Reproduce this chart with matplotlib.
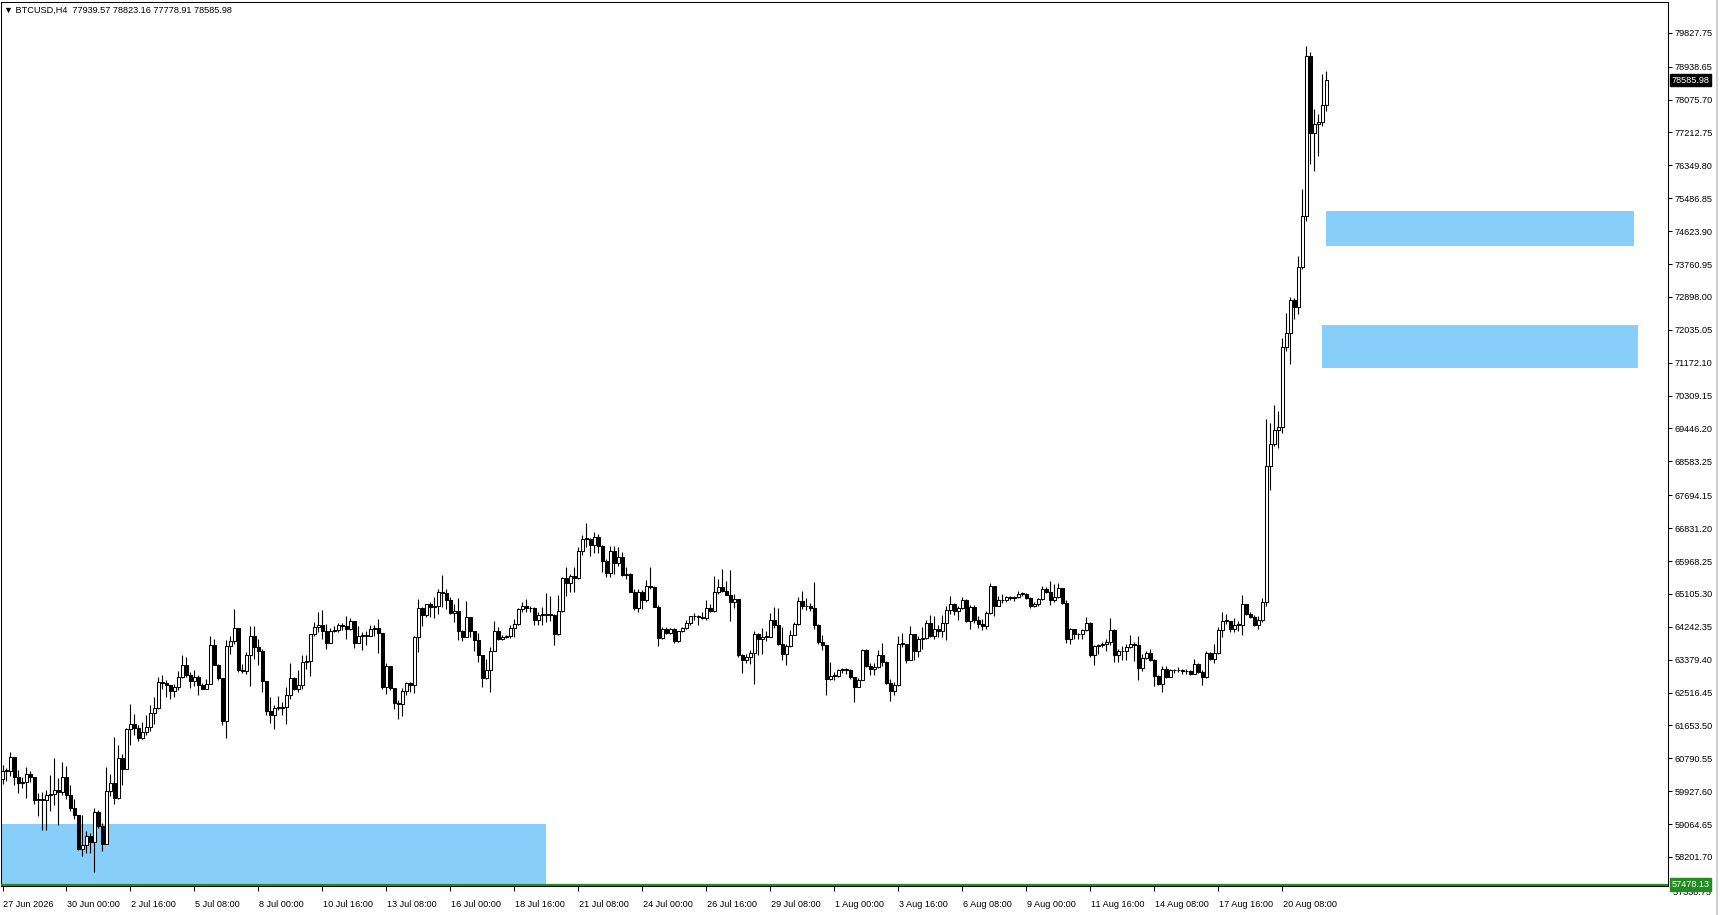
import matplotlib
matplotlib.use("Agg")
import matplotlib.pyplot as plt
from matplotlib.patches import Rectangle
from matplotlib.lines import Line2D
from matplotlib.transforms import ScaledTranslation, blended_transform_factory

# BTCUSD H4 candles (open of each bar = previous close)
first_open = 60249
close = [
    60458, 60458, 60833, 60310, 60153, 60162, 60389, 60310, 59700, 59700,
    59692, 59831, 59857, 59970, 59918, 60310, 59831, 59482, 59308, 58419,
    58507, 58742, 58585, 59378, 59003, 58550, 59944, 60153, 59761, 60807,
    60511, 61547, 61704, 61591, 61312, 61469, 61600, 61983, 62122, 62793,
    62767, 62706, 62549, 62663, 62924, 63246, 62985, 62811, 62924, 62724,
    62619, 62732, 63769, 63246, 62898, 61765, 63734, 63856, 64214, 63098,
    63081, 63508, 63996, 63708, 63595, 62811, 62027, 61940, 62114, 62122,
    62140, 62462, 62898, 62602, 62706, 63316, 63334, 64057, 64231, 64292,
    64144, 63822, 64135, 64153, 64292, 64275, 64188, 64397, 63822, 63996,
    64013, 64013, 64188, 64205, 64074, 62663, 63212, 62636, 62253, 62218,
    62558, 62767, 62724, 63970, 64728, 64562, 64841, 64754, 64780, 65163,
    65129, 64955, 64598, 64659, 64127, 63970, 64493, 64127, 63901, 63509,
    62899, 63117, 63605, 64127, 63910, 63970, 63997, 64214, 64310, 64711,
    64781, 64729, 64729, 64432, 64554, 64554, 64572, 64554, 64040, 64650,
    65521, 65382, 65582, 65513, 66218, 66558, 66541, 66393, 66611, 66367,
    65975, 65643, 66218, 65905, 66062, 65608, 65626, 65164, 64729, 65147,
    64955, 65304, 65295, 64772, 63953, 64188, 64075, 64188, 63857, 64127,
    64206, 64336, 64520, 64520, 64511, 64467, 64729, 64650, 65147, 65278,
    65173, 65086, 64903, 64973, 63491, 63361, 63448, 63561, 64058, 63910,
    63970, 63970, 64424, 64276, 63796, 63517, 63726, 64032, 64319, 64911,
    64798, 64781, 64729, 64302, 63840, 63770, 62864, 62951, 62951, 63099,
    63125, 63117, 62925, 62664, 62838, 63622, 63204, 63125, 63186, 63491,
    63317, 62777, 62550, 62725, 63788, 63788, 63361, 64058, 63596, 63927,
    63944, 64345, 63997, 64188, 64127, 64345, 64694, 64842, 64650, 64729,
    64955, 64406, 64755, 64432, 64319, 64258, 64607, 65304, 64798, 64955,
    64938, 65016, 65007, 65016, 65103, 65103, 64990, 64781, 64842, 64972,
    65234, 65147, 64955, 65016, 65251, 64868, 63909, 64171, 64058, 64040,
    64145, 64336, 63509, 63735, 63753, 63788, 63840, 64145, 63491, 63596,
    63604, 63709, 63796, 63753, 63160, 63430, 63552, 63361, 62951, 62733,
    63143, 62925, 63099, 63099, 63099, 63073, 63073, 63012, 63273, 63056,
    62925, 63552, 63387, 63552, 64145, 64389, 64389, 64188, 64293, 64293,
    64842, 64580, 64493, 64293, 64424, 64903, 68457, 69046, 69418, 69490,
    71587, 71949, 72817, 72641, 73695, 75017, 79232, 77207, 77444, 77496,
    77939.57, 78585.98,
]
high = [
    60615, 60528, 60964, 60833, 60484, 60310, 60571, 60458, 60310, 59875,
    59918, 59962, 60354, 60807, 60267, 60702, 60589, 60092, 59726, 59308,
    59291, 58890, 58829, 59482, 59439, 59090, 60554, 60371, 61356, 61138,
    60894, 61573, 62227, 61966, 61661, 61748, 61922, 62183, 62401, 62924,
    62985, 62837, 62706, 62750, 63072, 63490, 63447, 63055, 63098, 62968,
    62767, 62880, 64013, 63926, 63272, 62898, 63883, 63996, 64710, 64214,
    63272, 63578, 64275, 64257, 63909, 63665, 62811, 62401, 62201, 62427,
    62271, 62663, 63299, 62924, 63098, 63508, 63490, 64057, 64379, 64623,
    64693, 64318, 64205, 64257, 64344, 64344, 64519, 64484, 64397, 64257,
    64100, 64144, 64292, 64292, 64449, 64074, 63299, 63212, 62636, 62314,
    62636, 62793, 62793, 63996, 64972, 64754, 64841, 64884, 65015, 65233,
    65600, 65234, 65016, 64842, 64990, 64145, 64929, 64493, 64127, 64084,
    63509, 63387, 63709, 64389, 64249, 64032, 64032, 64276, 64450, 64729,
    64903, 64973, 64798, 64755, 64624, 64755, 65129, 65042, 64580, 65077,
    65539, 65800, 65626, 65800, 66340, 66645, 66959, 66584, 66733, 66672,
    66384, 66018, 66367, 66349, 66323, 66210, 65800, 65643, 65234, 65234,
    65216, 65469, 65800, 65321, 64816, 64232, 64249, 64214, 64214, 64127,
    64232, 64432, 64537, 64607, 64554, 64624, 64955, 64842, 65565, 65495,
    65757, 65452, 65731, 65103, 64973, 63517, 63517, 63622, 64119, 64084,
    64214, 64119, 64607, 64755, 64729, 64232, 63796, 64145, 64380, 65016,
    65190, 64990, 64859, 65426, 64319, 64032, 63770, 63317, 63056, 63125,
    63160, 63160, 63143, 62925, 62899, 63648, 63665, 63300, 63300, 63622,
    63822, 63334, 62881, 62794, 63997, 64084, 63796, 64275, 64058, 63997,
    64232, 64424, 64554, 64537, 64293, 64554, 64798, 65042, 64868, 64798,
    65016, 64972, 64816, 64816, 64519, 64450, 64668, 65391, 65321, 65060,
    65103, 65060, 65060, 65042, 65190, 65164, 65129, 65016, 64903, 64990,
    65321, 65277, 65452, 65365, 65391, 65251, 64955, 64206, 64171, 64084,
    64188, 64493, 64363, 63770, 63796, 63840, 63909, 64467, 64171, 63665,
    63735, 63796, 64032, 63840, 63997, 63535, 63596, 63648, 63387, 62968,
    63212, 63212, 63143, 63143, 63186, 63143, 63143, 63099, 63404, 63300,
    63099, 63596, 63578, 63796, 64232, 64641, 64580, 64406, 64467, 64406,
    65077, 64842, 64624, 64554, 64519, 64990, 69697, 69594, 70059, 69903,
    71815, 72486, 72899, 72868, 73963, 75740, 79479, 79335, 77827, 77703,
    78736, 78823.16,
]
low = [
    60118, 60197, 60336, 60092, 59875, 60005, 59761, 60179, 59587, 59265,
    58916, 58916, 59395, 59570, 59029, 59831, 59726, 59413, 59204, 58393,
    58219, 58306, 58306, 57810, 58960, 58350, 58550, 59814, 59587, 59726,
    60092, 60511, 61138, 61399, 61243, 61295, 61399, 61504, 61704, 62079,
    62619, 62401, 62340, 62401, 62576, 62898, 62924, 62636, 62689, 62445,
    62602, 62602, 62732, 63246, 62837, 61661, 61312, 63534, 63795, 63055,
    63037, 63011, 62689, 63386, 63246, 62532, 61922, 61730, 61556, 62053,
    61940, 61678, 62358, 62593, 62532, 62619, 63142, 62950, 64013, 64100,
    63909, 63647, 63822, 64100, 64118, 64170, 63909, 64170, 63682, 63822,
    63621, 63752, 63996, 64013, 63560, 62619, 62488, 62576, 62079, 61818,
    61905, 62445, 62532, 62515, 63578, 64275, 64492, 64492, 64466, 64580,
    64755, 64711, 64580, 64380, 63883, 63857, 63970, 63970, 63596, 63317,
    62664, 62864, 62533, 63605, 63883, 63901, 63944, 63944, 63970, 64293,
    64624, 64624, 64624, 64276, 64293, 64276, 64363, 64406, 63753, 64014,
    64641, 65042, 65147, 65164, 65495, 66131, 66323, 66088, 66175, 66166,
    65687, 65539, 65556, 65626, 65844, 65582, 65495, 65147, 64694, 64641,
    64711, 64885, 65234, 64755, 63727, 63927, 64040, 64040, 63814, 63840,
    64101, 64188, 64293, 64432, 64276, 64450, 64432, 64641, 64641, 65103,
    65147, 65077, 64406, 64729, 63448, 63038, 63300, 63273, 62733, 63509,
    63535, 63857, 63970, 64214, 63770, 63361, 63247, 63709, 64014, 64293,
    64711, 64694, 64668, 64188, 63796, 63622, 62446, 62838, 62838, 62925,
    63038, 63012, 62881, 62272, 62664, 62838, 63187, 62986, 62986, 63160,
    63212, 62751, 62289, 62446, 62690, 63709, 63300, 63361, 63361, 63448,
    63665, 63927, 63970, 63927, 63970, 63970, 63883, 64580, 64554, 64432,
    64711, 64380, 64171, 64345, 64206, 64145, 64171, 64580, 64519, 64798,
    64868, 64903, 64955, 64929, 64990, 65042, 64972, 64729, 64755, 64798,
    64955, 65121, 64816, 64903, 64990, 64842, 63822, 63796, 63927, 63927,
    63927, 64127, 63448, 63230, 63535, 63709, 63596, 63770, 63317, 63317,
    63361, 63361, 63683, 63334, 62838, 63073, 63387, 63334, 62690, 62707,
    62533, 62899, 63012, 63038, 63056, 63012, 63012, 62986, 63012, 63038,
    62707, 62899, 63361, 63300, 63535, 63970, 64319, 64101, 64101, 64119,
    64032, 64554, 64467, 64275, 64171, 64362, 64790, 67838, 68974, 68922,
    69335, 71484, 71143, 72311, 72455, 73622, 74893, 76380, 76205, 76587,
    77372, 77778.91,
]

# zones drawn on the chart: (bar from, bar to, price low, price high)
zones = [
    (330.95, 408.0, 74242, 75141),
    (329.85, 408.8, 71040, 72166),
    (-1.0, 135.9, 57478.13, 59064),
]
green_level = 57478.13
last_price = 78585.98

price_ticks = [79827.75, 78938.65, 78075.70, 77212.75, 76349.80, 75486.85,
               74623.90, 73760.95, 72898.00, 72035.05, 71172.10, 70309.15,
               69446.20, 68583.25, 67694.15, 66831.20, 65968.25, 65105.30,
               64242.35, 63379.40, 62516.45, 61653.50, 60790.55, 59927.60,
               59064.65, 58201.70]
bottom_tick = 57338.75

date_labels = ["27 Jun 2026", "30 Jun 00:00", "2 Jul 16:00", "5 Jul 08:00",
               "8 Jul 00:00", "10 Jul 16:00", "13 Jul 08:00", "16 Jul 00:00",
               "18 Jul 16:00", "21 Jul 08:00", "24 Jul 00:00", "26 Jul 16:00",
               "29 Jul 08:00", "1 Aug 00:00", "3 Aug 16:00", "6 Aug 08:00",
               "9 Aug 00:00", "11 Aug 16:00", "14 Aug 08:00", "17 Aug 16:00",
               "20 Aug 08:00"]

FONT = ["Liberation Sans", "DejaVu Sans"]
FS = 6.6
plt.rcParams["font.family"] = FONT

W, H = 1720, 915
fig = plt.figure(figsize=(W / 100, H / 100), dpi=100)
ax = fig.add_axes([1 / W, 29 / H, 1667 / W, 884 / H])
ax.set_xlim(-0.375, 416.375)
ax.set_ylim(57440, 80637)

n = len(close)
opens = [first_open] + close[:-1]
xs = list(range(n))

# wicks
hi = [max(high[i], opens[i], close[i]) for i in range(n)]
lo = [min(low[i], opens[i], close[i]) for i in range(n)]
ax.vlines(xs, lo, hi, color="black", linewidth=0.8, zorder=2)

# bodies
bottoms = [min(opens[i], close[i]) for i in range(n)]
heights = [max(abs(close[i] - opens[i]), 18) for i in range(n)]
faces = ["white" if close[i] >= opens[i] else "black" for i in range(n)]
ax.bar(xs, heights, bottom=bottoms, width=0.55, color=faces,
       edgecolor="black", linewidth=0.75, zorder=3)

for x0, x1, y0, y1 in zones:
    ax.add_patch(Rectangle((x0, y0), x1 - x0, y1 - y0, facecolor="#87CEFA",
                           edgecolor="none", zorder=1))

ax.axhline(green_level, color="#228B22", linewidth=1.6, zorder=4)

for sp in ax.spines.values():
    sp.set_color("black")
    sp.set_linewidth(0.75)

# price axis on the right
ax.yaxis.tick_right()
ax.set_yticks(price_ticks)
ax.set_yticklabels([f"{v:.2f}" for v in price_ticks])
ax.tick_params(axis="y", direction="out", length=3, width=0.75,
               pad=2, labelsize=FS, colors="black")

ax.set_xticks([16 * k for k in range(len(date_labels))])
ax.set_xticklabels(date_labels)
ax.tick_params(axis="x", direction="out", length=3.5, width=0.75,
               pad=6.5, labelsize=FS, colors="black")
shift = ScaledTranslation(0.5 / 100, 0, fig.dpi_scale_trans)
for lab in ax.get_xticklabels():
    lab.set_ha("left")
    lab.set_transform(lab.get_transform() + shift)

tr = blended_transform_factory(ax.transAxes, ax.transData)
ax.text(1.0, bottom_tick - 60, "  " + f"{bottom_tick:.2f}", transform=tr,
        fontsize=FS, va="center", ha="left", clip_on=False)
ax.text(1.0021, last_price, f"{last_price:.2f}", transform=tr, fontsize=FS,
        color="white", va="center", ha="left", clip_on=False, zorder=10,
        bbox=dict(boxstyle="square,pad=0.18", facecolor="black",
                  edgecolor="black"))
ax.text(1.0021, green_level, f"{green_level:.2f}", transform=tr, fontsize=FS,
        color="white", va="center", ha="left", clip_on=False, zorder=10,
        bbox=dict(boxstyle="square,pad=0.18", facecolor="#228B22",
                  edgecolor="#228B22"))

fig.text(4 / W, 1 - 10 / H,
         "\u25bc BTCUSD,H4  77939.57 78823.16 77778.91 78585.98",
         fontsize=FS, va="center", ha="left", family=FONT)

fig.add_artist(Line2D([1717 / W, 1717 / W], [0, 1], color="#d0d0d0",
                      linewidth=1.5))

fig.savefig("out.png", dpi=100, facecolor="white")
